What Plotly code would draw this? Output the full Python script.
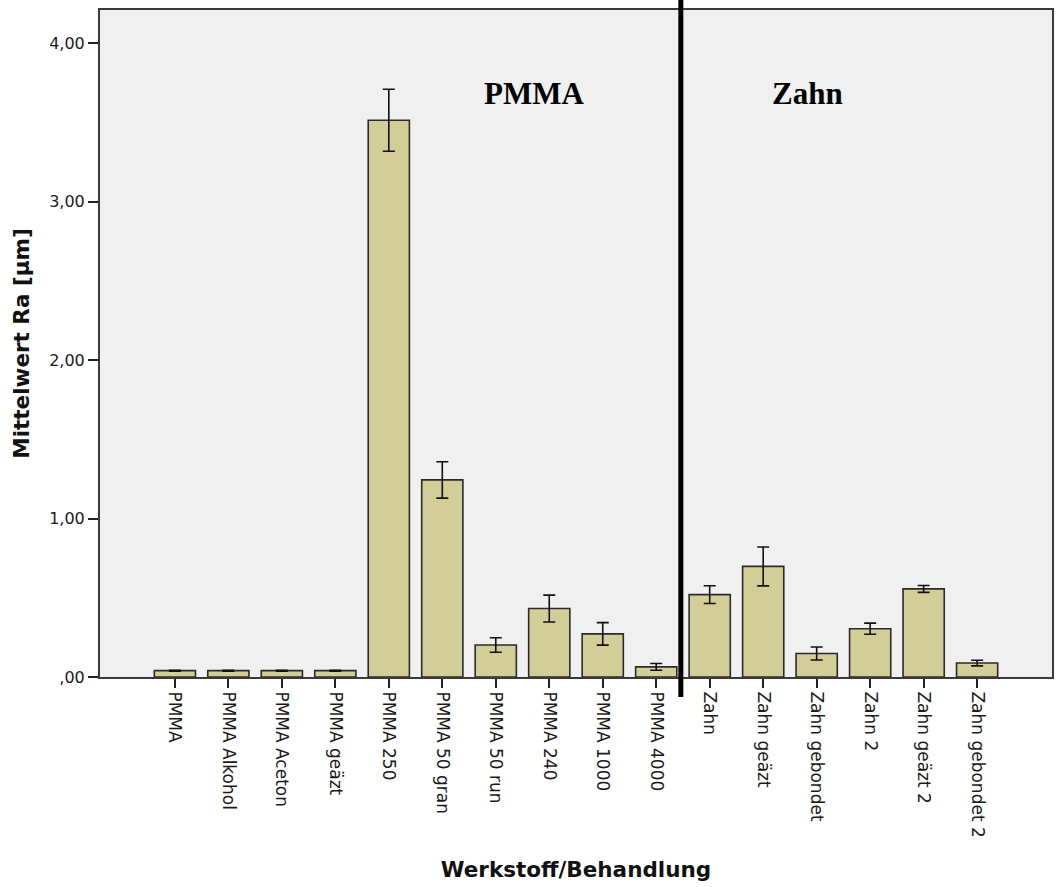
import plotly.graph_objects as go

categories = ["PMMA", "PMMA Alkohol", "PMMA Aceton", "PMMA geäzt", "PMMA 250",
              "PMMA 50 gran", "PMMA 50 run", "PMMA 240", "PMMA 1000", "PMMA 4000",
              "Zahn", "Zahn geäzt", "Zahn gebondet", "Zahn 2", "Zahn geäzt 2",
              "Zahn gebondet 2"]
means = [0.040, 0.040, 0.040, 0.040, 3.514, 1.244, 0.202, 0.432, 0.272, 0.064,
         0.520, 0.698, 0.148, 0.305, 0.556, 0.088]
errors = [0.003, 0.003, 0.003, 0.003, 0.196, 0.115, 0.046, 0.085, 0.071, 0.021,
          0.056, 0.123, 0.041, 0.035, 0.022, 0.018]
y_ticks = [0, 1, 2, 3, 4]
y_tick_labels = [",00", "1,00", "2,00", "3,00", "4,00"]
group_labels = ["PMMA", "Zahn"]
group_label_x = [6.72, 11.83]
separator_x = 9.46

fig = go.Figure()
fig.add_trace(go.Bar(
    x=list(range(len(categories))),
    y=means,
    width=0.77,
    marker=dict(color="#d3ce97", line=dict(color="#2a2a2a", width=1.6)),
    error_y=dict(type="data", array=errors, visible=True, color="#111111",
                 thickness=1.6, width=6),
    showlegend=False,
))

fig.add_shape(type="line", xref="x", yref="paper", x0=separator_x, x1=separator_x,
              y0=-0.03, y1=1.02, line=dict(color="black", width=5), layer="above")

for lbl, gx in zip(group_labels, group_label_x):
    fig.add_annotation(x=gx, y=3.68, xref="x", yref="y", text="<b>" + lbl + "</b>",
                       showarrow=False,
                       font=dict(family="Liberation Serif", size=31, color="black"))

fig.update_layout(
    width=1056, height=887,
    margin=dict(l=100, r=2, t=10, b=210),
    paper_bgcolor="white",
    plot_bgcolor="#f0f0f0",
    bargap=0.23,
    font=dict(family="DejaVu Sans", color="#222222"),
)
fig.update_xaxes(
    range=[-1.4, 16.4],
    tickmode="array",
    tickvals=list(range(len(categories))),
    ticktext=categories,
    tickangle=90,
    ticks="outside", ticklen=9, tickwidth=1.5, tickcolor="#222222",
    tickfont=dict(family="DejaVu Sans", size=17, color="#1a1a1a"),
    showline=True, linecolor="#3a3a3a", linewidth=2, mirror=True,
    showgrid=False, zeroline=False,
    title=dict(text="<b>Werkstoff/Behandlung</b>",
               font=dict(family="DejaVu Sans", size=21.5, color="#111111"),
               standoff=25),
)
fig.update_yaxes(
    range=[0, 4.21],
    tickmode="array",
    tickvals=y_ticks,
    ticktext=y_tick_labels,
    ticks="outside", ticklen=10, tickwidth=1.5, tickcolor="#222222",
    tickfont=dict(family="DejaVu Sans", size=16, color="#1a1a1a"),
    showline=True, linecolor="#3a3a3a", linewidth=2, mirror=True,
    showgrid=False, zeroline=False,
    title=dict(text="<b>Mittelwert Ra [µm]</b>",
               font=dict(family="DejaVu Sans", size=21.5, color="#111111"),
               standoff=14),
)

fig.write_html("out.html")
